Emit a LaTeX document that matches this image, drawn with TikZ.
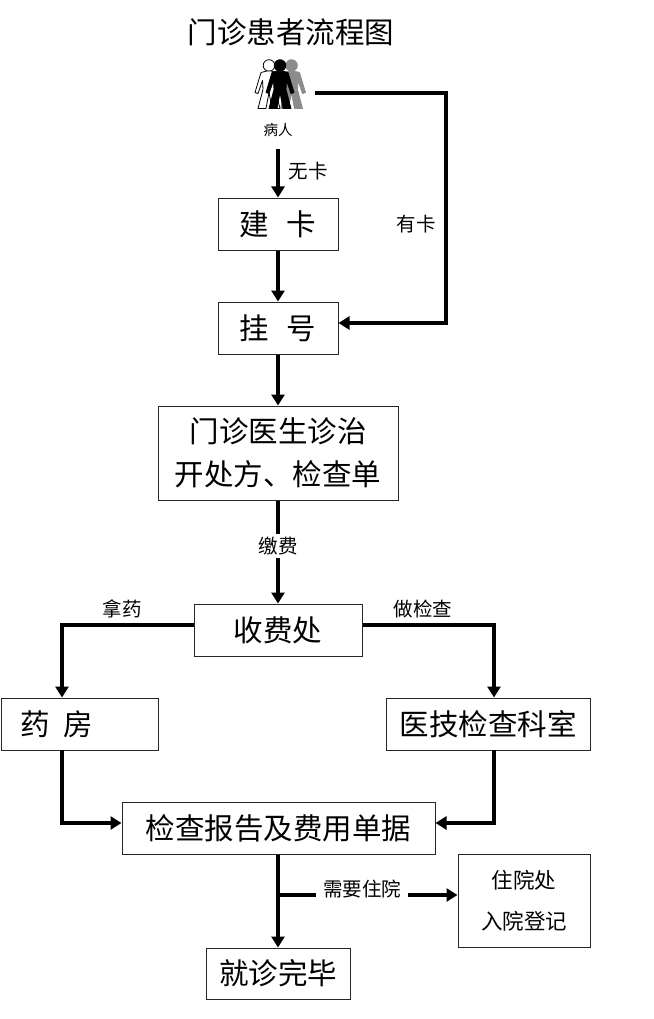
\documentclass[tikz,border=0pt]{standalone}
\usepackage{fontspec}
\setmainfont{Noto Sans CJK SC}
\usetikzlibrary{arrows.meta,calc}
\tikzset{
  box/.style={draw=black!85,line width=1pt,fill=white,inner sep=0pt,align=center,font=\fontsize{29.5}{43}\selectfont},
  flow/.style={line width=3.4pt,-{Triangle[length=11pt,width=13pt]}},
  lbl/.style={font=\fontsize{19.5}{24}\selectfont,inner sep=2pt,fill=white},
  figpart/.style={line width=.8pt,line join=round},
  pic person/.pic={
    \path[pic actions] (0,0) circle (5.8);
    \path[pic actions] (-2,5.5)--(-8,7)--(-14,27)--(-11,28)--(-6.5,15)--(-6,24)--(-11,43)--(-3,43)--(0,27)--(3,43)--(11,43)--(6,24)--(6.5,15)--(11,28)--(14,27)--(8,7)--(2,5.5)--cycle;
  }
}
\begin{document}
\begin{tikzpicture}[x=1pt,y=-1pt]
\useasboundingbox (0,0) rectangle (653,1019);
\node[font=\fontsize{29.5}{34}\selectfont,inner sep=0pt] (title) at (291,32) {门诊患者流程图};

\pic[figpart,draw=black,fill=white] at (269,65.5) {pic person};
\pic[figpart,draw=black!45,fill=black!45] at (291.5,65.5) {pic person};
\pic[figpart,draw=black,fill=black] at (280,65.5) {pic person};
\coordinate (personright) at (315,93);
\node[font=\fontsize{14.5}{18}\selectfont,inner sep=0pt] (patient) at (278,130) {病人};
\coordinate (patientdown) at (278,149);

\node[box,minimum width=120pt,minimum height=52pt] (card) at (278,224) {建\hspace{.58em}卡};
\node[box,minimum width=120pt,minimum height=52pt] (reg) at (278,328) {挂\hspace{.58em}号};
\node[box,minimum width=240pt,minimum height=94pt] (doctor) at (278,453) {门诊医生诊治\\开处方、检查单};
\node[box,minimum width=168pt,minimum height=52pt] (fee) at (278,630) {收费处};
\node[box,minimum width=157pt,minimum height=52pt,text width=157pt,align=left] (drug) at (79.5,724) {\hspace{20pt}药\hspace{.45em}房};
\node[box,minimum width=204pt,minimum height=52pt] (lab) at (488,724) {医技检查科室};
\node[box,minimum width=313pt,minimum height=52pt] (report) at (278.5,828) {检查报告及费用单据};
\node[box,minimum width=132pt,minimum height=93pt,font=\fontsize{21.5}{41}\selectfont] (inpat) at (524,900.5) {住院处\\入院登记};
\node[box,minimum width=144pt,minimum height=51pt] (done) at (278,973.5) {就诊完毕};

\draw[flow] (patientdown) -- (card.north);
\node[lbl] (nocard) at (308,171) {无卡};
\draw[flow] (card.south) -- (reg.north);
\coordinate (corner1) at (446,93);
\draw[flow] (personright) -- (corner1) |- (reg.east |- 0,323);
\node[lbl] (hascard) at (416,224) {有卡};
\draw[flow] (reg.south) -- (doctor.north);
\draw[flow] (doctor.south) -- (fee.north);
\node[lbl,inner xsep=3pt,inner ysep=3pt] (pay) at (278,546) {缴费};

\draw[flow] (fee.west |- 0,625) -| (drug.north -| 62,0);
\node[lbl,fill=none] (take) at (122,609) {拿药};
\draw[flow] (fee.east |- 0,625) -| (lab.north -| 494,0);
\node[lbl,fill=none] (exam) at (423,609) {做检查};
\coordinate (drugout) at (62,750);
\coordinate (labout) at (494,750);
\draw[flow] (drugout) |- (report.west |- 0,823);
\draw[flow] (labout) |- (report.east |- 0,823);

\draw[flow] (report.south -| done.north) -- (done.north);
\coordinate (branch) at (278,895);
\draw[flow] (branch) -- (inpat.west |- branch);
\node[lbl,inner xsep=7pt,inner ysep=4pt] (need) at (362,889) {需要住院};
\end{tikzpicture}
\end{document}
